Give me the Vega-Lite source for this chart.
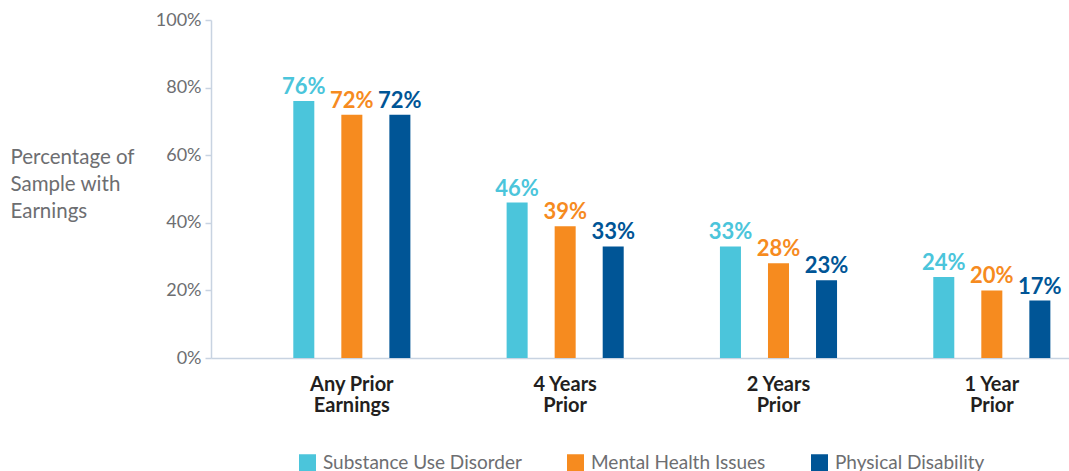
{
  "$schema": "https://vega.github.io/schema/vega-lite/v6.json",
  "autosize": "none",
  "width": 858,
  "height": 338,
  "padding": {"left": 211, "top": 20, "right": 0, "bottom": 113},
  "background": "white",
  "config": {
    "view": {"stroke": null},
    "font": "Lato",
    "axis": {"grid": false}
  },
  "data": {
    "values": [
      {"period": "Any Prior Earnings", "group": "Substance Use Disorder", "pct": 0.76},
      {"period": "Any Prior Earnings", "group": "Mental Health Issues", "pct": 0.72},
      {"period": "Any Prior Earnings", "group": "Physical Disability", "pct": 0.72},
      {"period": "4 Years Prior", "group": "Substance Use Disorder", "pct": 0.46},
      {"period": "4 Years Prior", "group": "Mental Health Issues", "pct": 0.39},
      {"period": "4 Years Prior", "group": "Physical Disability", "pct": 0.33},
      {"period": "2 Years Prior", "group": "Substance Use Disorder", "pct": 0.33},
      {"period": "2 Years Prior", "group": "Mental Health Issues", "pct": 0.28},
      {"period": "2 Years Prior", "group": "Physical Disability", "pct": 0.23},
      {"period": "1 Year Prior", "group": "Substance Use Disorder", "pct": 0.24},
      {"period": "1 Year Prior", "group": "Mental Health Issues", "pct": 0.20},
      {"period": "1 Year Prior", "group": "Physical Disability", "pct": 0.17}
    ]
  },
  "encoding": {
    "x": {
      "field": "period",
      "type": "nominal",
      "sort": ["Any Prior Earnings", "4 Years Prior", "2 Years Prior", "1 Year Prior"],
      "scale": {"paddingInner": 0.325, "paddingOuter": 0.1735, "align": 0.93},
      "axis": {
        "title": null,
        "labelAngle": 0,
        "ticks": false,
        "domainColor": "#c8d3e1",
        "domainWidth": 1.5,
        "labelFont": "Lato",
        "labelFontWeight": "bold",
        "labelFontSize": 20,
        "labelColor": "#231f20",
        "labelLineHeight": 21,
        "labelPadding": 16,
        "labelBaseline": "top",
        "labelExpr": "datum.label == 'Any Prior Earnings' ? ['Any Prior', 'Earnings'] : [replace(datum.label, ' Prior', ''), 'Prior']"
      }
    },
    "xOffset": {
      "field": "group",
      "type": "nominal",
      "sort": ["Substance Use Disorder", "Mental Health Issues", "Physical Disability"],
      "scale": {"paddingInner": 0.5625, "paddingOuter": 0.28}
    },
    "y": {
      "field": "pct",
      "type": "quantitative",
      "scale": {"domain": [0, 1]},
      "axis": {
        "values": [0, 0.2, 0.4, 0.6, 0.8, 1],
        "format": ".0%",
        "title": ["Percentage of", "Sample with", "Earnings"],
        "titleAngle": 0,
        "titleAlign": "left",
        "titleBaseline": "alphabetic",
        "titleX": -201,
        "titleY": 143,
        "titleFont": "Lato",
        "titleFontWeight": "normal",
        "titleFontSize": 20.5,
        "titleColor": "#6d6e71",
        "titleLineHeight": 27,
        "labelFont": "Lato",
        "labelFontSize": 18,
        "labelColor": "#6d6e71",
        "labelPadding": 4,
        "tickColor": "#c8d3e1",
        "tickSize": 6,
        "tickWidth": 1.5,
        "domainColor": "#c8d3e1",
        "domainWidth": 1.5
      }
    },
    "color": {
      "field": "group",
      "type": "nominal",
      "sort": ["Substance Use Disorder", "Mental Health Issues", "Physical Disability"],
      "scale": {
        "domain": ["Substance Use Disorder", "Mental Health Issues", "Physical Disability"],
        "range": ["#4bc5db", "#f68b1f", "#005596"]
      }
    }
  },
  "layer": [
    {
      "mark": {"type": "bar"},
      "encoding": {
        "color": {
          "field": "group",
          "type": "nominal",
          "sort": ["Substance Use Disorder", "Mental Health Issues", "Physical Disability"],
          "legend": {
            "title": null,
            "orient": "none",
            "direction": "horizontal",
            "legendX": 87,
            "legendY": 433,
            "symbolType": "square",
            "symbolSize": 289,
            "symbolStrokeWidth": 0,
            "labelFont": "Lato",
            "labelFontSize": 19,
            "labelLimit": 400,
            "labelColor": "#6d6e71",
            "labelOffset": 6,
            "columnPadding": 44
          }
        }
      }
    },
    {
      "mark": {"type": "text", "fontWeight": "bold", "fontSize": 22, "baseline": "alphabetic", "dy": -7, "font": "Lato"},
      "encoding": {
        "text": {"field": "pct", "type": "quantitative", "format": ".0%"}
      }
    }
  ]
}
